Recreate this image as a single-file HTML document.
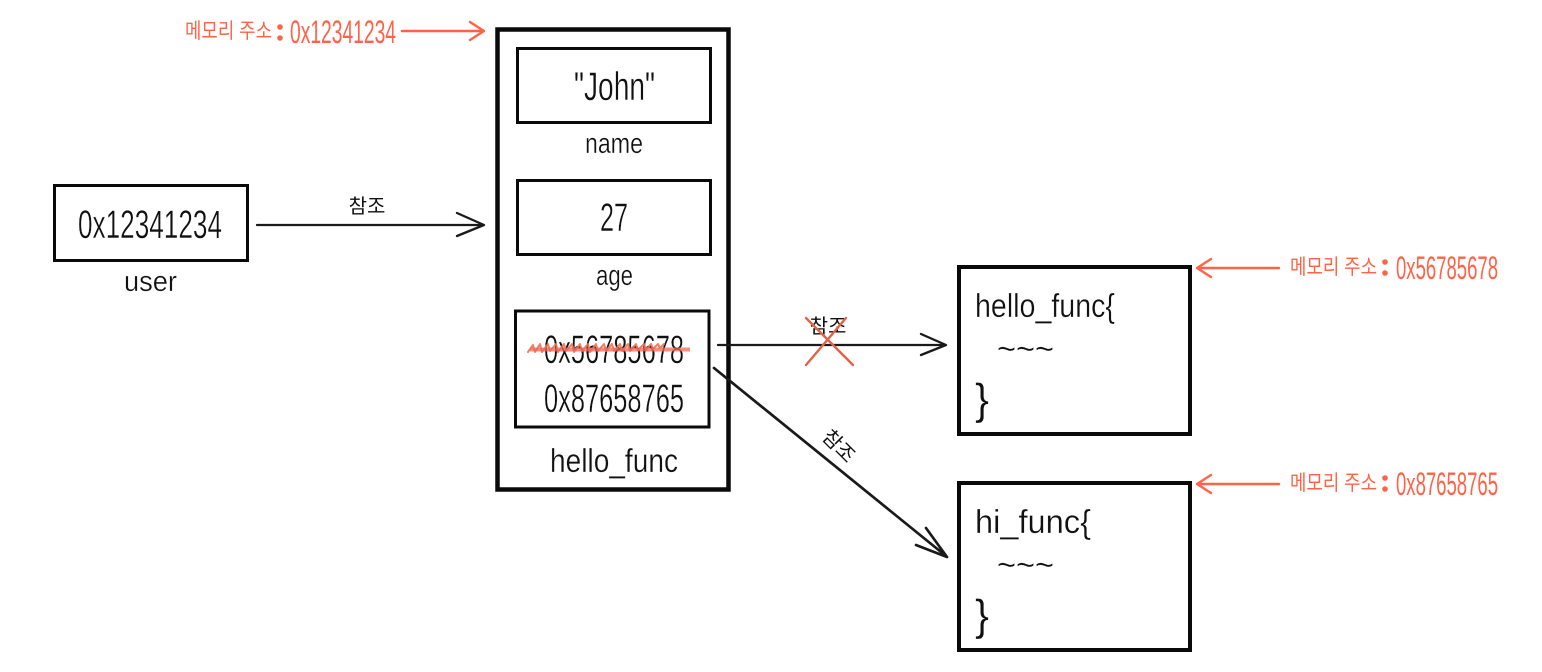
<!DOCTYPE html>
<html lang="ko">
<head>
<meta charset="utf-8">
<title>Reference diagram</title>
<style>
html,body{margin:0;padding:0;background:#fff;width:1542px;height:672px;overflow:hidden}
svg{display:block}
text{font-family:"Liberation Sans","Noto Sans CJK KR",sans-serif;fill:#111}
.h{font-size:40px;text-anchor:start;stroke:#fff;stroke-width:.4}
.l{font-size:29px;stroke:#fff;stroke-width:.3}
.k{font-size:20px;font-weight:400}
.r{fill:#ff6347}
.rk{font-size:21px;font-weight:400}
.rh{font-size:32px}
.box{fill:#fff;stroke:#0a0a0a}
.ln{fill:none;stroke:#1a1a1a;stroke-width:2.3;stroke-linecap:round;stroke-linejoin:round}
.rl{fill:none;stroke:#ff6347;stroke-width:2.4;stroke-linecap:round;stroke-linejoin:round}
</style>
</head>
<body>
<svg width="1542" height="672" viewBox="0 0 1542 672" xmlns="http://www.w3.org/2000/svg">
<rect width="1542" height="672" fill="#fff"/>

<!-- outer memory box -->
<rect class="box" x="497.5" y="29.5" width="231" height="460" stroke-width="4.5"/>
<rect class="box" x="517.5" y="48.5" width="193" height="74" stroke-width="3"/>
<rect class="box" x="517.5" y="180.5" width="193" height="74" stroke-width="3"/>
<rect class="box" x="515.5" y="311" width="193.5" height="116" stroke-width="3"/>

<!-- user box -->
<rect class="box" x="54.5" y="185.5" width="193" height="75" stroke-width="3"/>

<!-- function boxes -->
<rect class="box" x="959" y="267" width="231" height="167" stroke-width="4"/>
<rect class="box" x="959" y="483" width="231" height="167" stroke-width="4"/>

<!-- labels in boxes -->
<text class="h" x="78" y="238" textLength="144" lengthAdjust="spacingAndGlyphs">0x12341234</text>
<text class="l" x="124" y="291" textLength="53" lengthAdjust="spacingAndGlyphs">user</text>

<text class="h" x="574" y="100" textLength="81" lengthAdjust="spacingAndGlyphs">"John"</text>
<text class="l" x="585" y="153" textLength="58" lengthAdjust="spacingAndGlyphs">name</text>
<text class="h" x="600" y="231" textLength="28" lengthAdjust="spacingAndGlyphs">27</text>
<text class="l" x="596" y="285" textLength="37" lengthAdjust="spacingAndGlyphs">age</text>
<text class="h" x="544" y="363" textLength="140" lengthAdjust="spacingAndGlyphs">0x56785678</text>
<text class="h" x="544" y="412" textLength="140" lengthAdjust="spacingAndGlyphs">0x87658765</text>
<text class="l" x="550" y="472" style="font-size:33px" textLength="128" lengthAdjust="spacingAndGlyphs">hello_func</text>

<text class="l" x="975" y="317" style="font-size:33px" textLength="140" lengthAdjust="spacingAndGlyphs">hello_func{</text>
<text class="l" x="997" y="360" style="font-size:33px" textLength="57" lengthAdjust="spacingAndGlyphs">~~~</text>
<text class="l" x="975" y="414" style="font-size:44px" textLength="14" lengthAdjust="spacingAndGlyphs">}</text>

<text class="l" x="975" y="533" style="font-size:33px" textLength="116" lengthAdjust="spacingAndGlyphs">hi_func{</text>
<text class="l" x="997" y="576" style="font-size:33px" textLength="57" lengthAdjust="spacingAndGlyphs">~~~</text>
<text class="l" x="975" y="630" style="font-size:44px" textLength="14" lengthAdjust="spacingAndGlyphs">}</text>

<!-- strike-through scribble -->
<path d="M528 352 l5 -7 l2 7 l5 -8 l2 8 l6 -8 l2 7 l6 -7 l2 8 l6 -8 l2 7 l6 -7 l2 8 l6 -8 l2 7 l6 -7 l2 8 l6 -8 l2 7 l6 -7 l2 7 l6 -7 l2 7 l6 -7 l2 7 l6 -7 l2 7 l6 -7 l2 6 l6 -6 l2 6 l5 -6 l2 5 l5 -5 l2 4 l4 -4" fill="none" stroke="#f0705a" stroke-width="2" stroke-linejoin="round" stroke-linecap="round" opacity=".9"/>
<path d="M530 349.5 H690" fill="none" stroke="#ee6a52" stroke-width="4" opacity="0.75"/>

<!-- black arrows -->
<path class="ln" d="M257 225 H483 M457 213 L484 225 L457 236"/>
<path class="ln" d="M718 345 H945 M921 334 L946 345 L921 355"/>
<path class="ln" style="stroke-width:2.7" d="M714 368 L946 556 M916 545 L947 557 M926 528 L947 557"/>

<!-- connector labels -->
<text class="k" x="367" y="213" text-anchor="middle">참조</text>
<text class="k" x="828" y="333" text-anchor="middle">참조</text>
<text class="k" x="0" y="0" text-anchor="middle" transform="translate(834 451) rotate(45)">참조</text>

<!-- red X -->
<path d="M806 318 L853 365 M846 318 L806 365" fill="none" stroke="#e0624a" stroke-width="2.4" stroke-linecap="round"/>

<!-- memory address annotations -->
<text class="r rk" x="185" y="38" textLength="87" lengthAdjust="spacingAndGlyphs">메모리 주소</text>
<circle cx="280" cy="27" r="2.8" fill="#ff6347"/><circle cx="280" cy="38" r="2.8" fill="#ff6347"/>
<text class="r rh" x="290" y="43" textLength="106" lengthAdjust="spacingAndGlyphs">0x12341234</text>
<path class="rl" d="M402 31 H483 M470 22 L484 31 L470 40"/>

<path class="rl" d="M1198 268 H1279 M1211 259 L1197 268 L1211 277"/>
<text class="r rk" x="1290" y="274" textLength="87" lengthAdjust="spacingAndGlyphs">메모리 주소</text>
<circle cx="1385" cy="262" r="2.8" fill="#ff6347"/><circle cx="1385" cy="273" r="2.8" fill="#ff6347"/>
<text class="r rh" x="1396" y="279" textLength="102" lengthAdjust="spacingAndGlyphs">0x56785678</text>

<path class="rl" d="M1198 484 H1279 M1211 475 L1197 484 L1211 493"/>
<text class="r rk" x="1290" y="490" textLength="87" lengthAdjust="spacingAndGlyphs">메모리 주소</text>
<circle cx="1385" cy="478" r="2.8" fill="#ff6347"/><circle cx="1385" cy="489" r="2.8" fill="#ff6347"/>
<text class="r rh" x="1396" y="495" textLength="102" lengthAdjust="spacingAndGlyphs">0x87658765</text>
</svg>
</body>
</html>
